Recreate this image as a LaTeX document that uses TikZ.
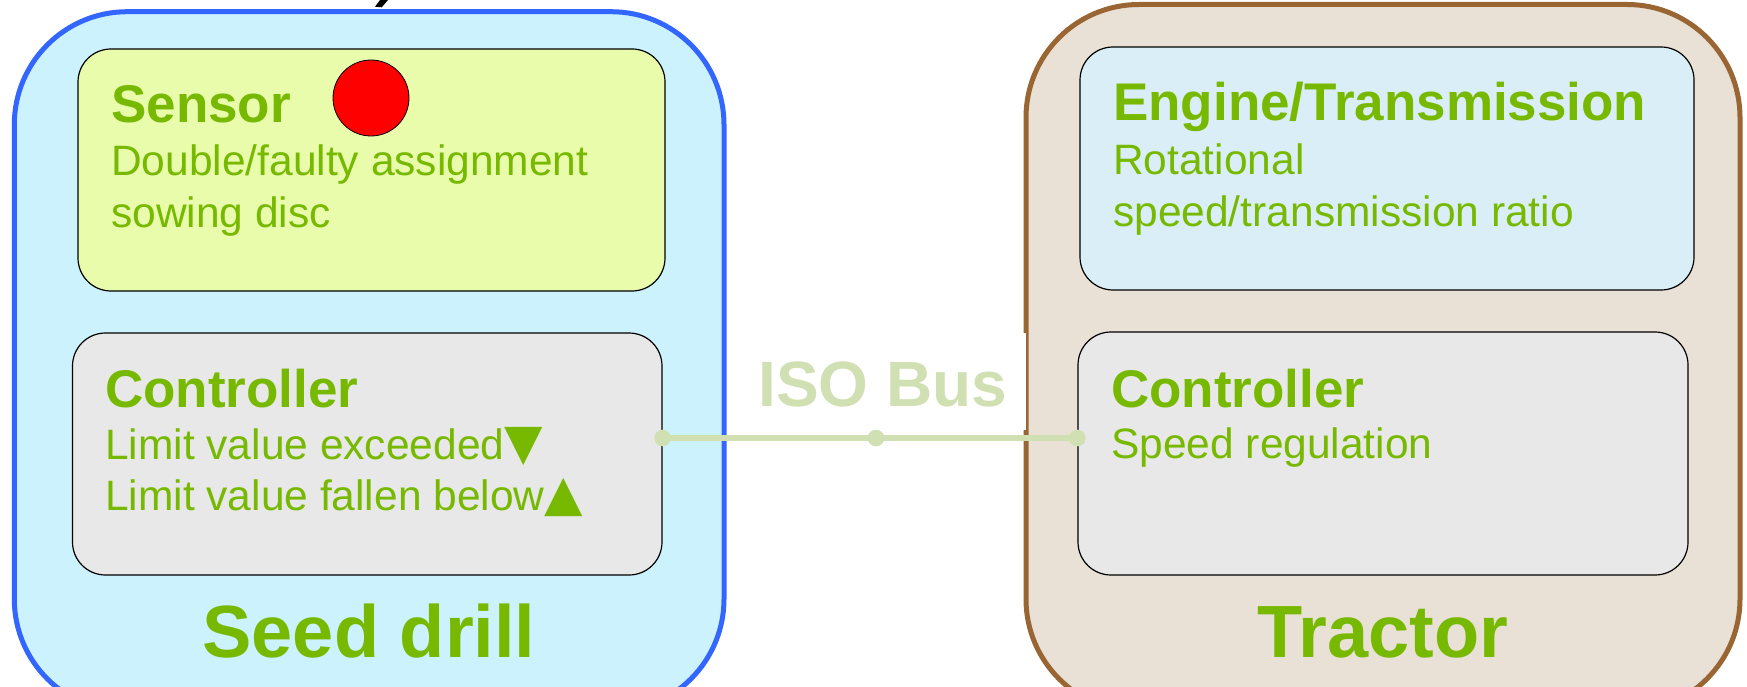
\documentclass[tikz,border=0pt]{standalone}
\usepackage{fontspec}
\setmainfont{Liberation Sans}
\newfontfamily\symfont{DejaVu Sans}
\definecolor{seedfill}{RGB}{204,243,253}
\definecolor{seedline}{RGB}{51,102,255}
\definecolor{tractfill}{RGB}{233,224,214}
\definecolor{tractline}{RGB}{153,102,51}
\definecolor{sensorfill}{RGB}{232,252,172}
\definecolor{enginefill}{RGB}{218,238,248}
\definecolor{ctrlfill}{RGB}{232,232,232}
\definecolor{tgreen}{RGB}{119,185,0}
\definecolor{busgreen}{RGB}{209,224,178}
\tikzset{
  outerbox/.style={rectangle, rounded corners=113pt, line width=5pt, inner sep=0pt},
  inbox/.style={rectangle, draw=black, line width=1.2pt, rounded corners=33pt, inner sep=0pt},
  hd/.style={anchor=base west, text=tgreen, inner sep=0pt, font=\fontsize{53}{60}\selectfont\bfseries},
  bd/.style={anchor=base west, text=tgreen, inner sep=0pt, font=\fontsize{42.5}{51}\selectfont},
  ttl/.style={anchor=base, text=tgreen, inner sep=0pt, font=\fontsize{74}{85}\selectfont\bfseries},
  bus/.style={draw=busgreen, line width=6pt},
  busdot/.style={fill=busgreen}
}
\newcommand{\tri}[1]{{\symfont\fontsize{50}{51}\selectfont #1}}
\begin{document}
\begin{tikzpicture}[x=1pt,y=-1pt]
\useasboundingbox (0,0) rectangle (1747,687);
\clip (0,0) rectangle (1747,687);
\fill[white] (0,0) rectangle (1747,687);
% title fragment at top
\fill[black] (375,6.7) -- (380,0) -- (388,0) -- (381.7,7.3) -- cycle;
% outer containers
\node[outerbox, draw=seedline, fill=seedfill, minimum width=709.7pt, minimum height=700.3pt] (seed) at (369.15,361.85) {};
\node[outerbox, draw=tractline, fill=tractfill, minimum width=714pt, minimum height=707.5pt] (tract) at (1383,358.25) {};
% ISO Bus label background
\fill[white] (735,333) rectangle (1025.5,430);
% inner boxes
\node[inbox, fill=sensorfill, minimum width=587pt, minimum height=242pt] (sens) at (371.5,170) {};
\node[inbox, fill=ctrlfill, minimum width=589.5pt, minimum height=242pt] (lc) at (367.25,454) {};
\node[inbox, fill=enginefill, minimum width=614pt, minimum height=243pt] (eng) at (1387,168.5) {};
\node[inbox, fill=ctrlfill, minimum width=610pt, minimum height=243pt] (rc) at (1383,453.5) {};
% red sensor circle
\node[circle, draw=black, line width=0.8pt, fill=red, minimum size=76pt, inner sep=0pt] (dot) at (371,98) {};
% texts
\node[hd] (senst) at (111,123) {Sensor};
\node[bd] (sens1) at (111,176) {Double/faulty assignment};
\node[bd] (sens2) at (111,227) {sowing disc};
\node[hd] (lct) at (105,407) {Controller};
\node[bd] (lc1) at (105,459) {Limit value exceeded\tri{▼}};
\node[bd] (lc2) at (105,510) {Limit value fallen below\tri{▲}};
\node[ttl] (seedt) at (369,657) {Seed drill};
\node[hd] (engt) at (1113,121) {Engine/Transmission};
\node[bd] (eng1) at (1113,175) {Rotational};
\node[bd] (eng2) at (1113,226) {speed/transmission ratio};
\node[hd] (rct) at (1111,407) {Controller};
\node[bd] (rc1) at (1111,458) {Speed regulation};
\node[ttl] (tractt) at (1383,657) {Tractor};
\node[anchor=base west, text=busgreen, inner sep=0pt, font=\fontsize{64}{70}\selectfont\bfseries] (iso) at (758,406) {ISO Bus};
% bus connector
\path (lc.east) ++(0,-16) coordinate (busL);
\path (rc.west) ++(0,-15.5) coordinate (busR);
\coordinate (busM) at (876,438);
\draw[bus] (busL) -- (busM) -- (busR);
\fill[busdot] (busL) circle (8.3);
\fill[busdot] (busM) circle (8.3);
\fill[busdot] (busR) circle (8.3);
\end{tikzpicture}
\end{document}
